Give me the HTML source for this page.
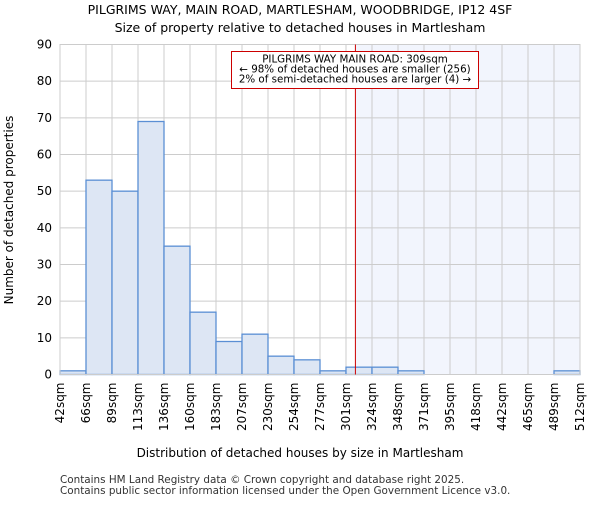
<!DOCTYPE html>
<html><head><meta charset="utf-8"><style>
body{margin:0;background:#fff;}
svg{font-family:"DejaVu Sans","Liberation Sans",sans-serif;}
</style></head><body>
<svg id="c" width="600" height="500" xmlns="http://www.w3.org/2000/svg">
<text x="300" y="14" text-anchor="middle" font-size="12.5">PILGRIMS WAY, MAIN ROAD, MARTLESHAM, WOODBRIDGE, IP12 4SF</text>
<text x="300" y="32" text-anchor="middle" font-size="12.5">Size of property relative to detached houses in Martlesham</text>
<g id="g"></g>
<text x="300" y="457" text-anchor="middle" font-size="12">Distribution of detached houses by size in Martlesham</text>
<text transform="translate(13,210) rotate(-90)" text-anchor="middle" font-size="12">Number of detached properties</text>
<text x="60" y="483" font-size="10.4" fill="#333">Contains HM Land Registry data © Crown copyright and database right 2025.</text>
<text x="60" y="494" font-size="10.4" fill="#333">Contains public sector information licensed under the Open Government Licence v3.0.</text>
</svg>
<script>
const tickLabels=["42sqm","66sqm","89sqm","113sqm","136sqm","160sqm","183sqm","207sqm","230sqm","254sqm","277sqm","301sqm","324sqm","348sqm","371sqm","395sqm","418sqm","442sqm","465sqm","489sqm","512sqm"];
const counts=[1,53,50,69,35,17,9,11,5,4,1,2,2,1,0,0,0,0,0,1];
const yTicks=[0,10,20,30,40,50,60,70,80,90];
const propertySize=309;
const xMin=42,xMax=512,yMax=90;
const L=60,R=580,T=44.5,B=374.5;
const xs=v=>L+(v-xMin)/(xMax-xMin)*(R-L);
const ys=v=>B-v/yMax*(B-T);
const NS="http://www.w3.org/2000/svg";
const g=document.getElementById('g');
function mk(t,a){const e=document.createElementNS(NS,t);for(const k in a)e.setAttribute(k,a[k]);g.appendChild(e);return e;}
const step=(xMax-xMin)/counts.length;
let e=mk('rect',{x:xs(propertySize),y:T,width:R-xs(propertySize),height:B-T,fill:'#f2f5fd'});


yTicks.forEach(v=>{let l=mk('line',{x1:L,x2:R,y1:ys(v),y2:ys(v),stroke:'#cccccc','stroke-width':1});


let t=mk('text',{x:L-8,y:ys(v)+4,'text-anchor':'end','font-size':12});t.textContent=v;

});
tickLabels.forEach((s,i)=>{const x=xs(xMin+i*step);
let l=mk('line',{x1:x,x2:x,y1:T,y2:B,stroke:'#cccccc','stroke-width':1});


let t=mk('text',{x:0,y:0,'text-anchor':'end','font-size':12,transform:`translate(${x+4},${B+8}) rotate(-90)`});t.textContent=s;

});
counts.forEach((c,i)=>{if(c<=0)return;const x0=xs(xMin+i*step),x1=xs(xMin+(i+1)*step);
let r=mk('rect',{x:x0,y:ys(c),width:x1-x0,height:B-ys(c),fill:'#dde6f4',stroke:'#5b8fd4','stroke-width':1.3});

});
e=mk('rect',{x:L,y:T,width:R-L,height:B-T,fill:'none',stroke:'#cccccc'});


e=mk('line',{x1:xs(propertySize),x2:xs(propertySize),y1:T,y2:B,stroke:'#cc0000','stroke-width':1});


e=mk('rect',{x:231.5,y:51.5,width:247,height:37,fill:'#fff',stroke:'#cc0000'});


["PILGRIMS WAY MAIN ROAD: 309sqm","← 98% of detached houses are smaller (256)","2% of semi-detached houses are larger (4) →"].forEach((s,i)=>{
let t=mk('text',{x:355,y:62.5+i*10,'text-anchor':'middle','font-size':10.3});t.textContent=s;

});
</script>
</body></html>
